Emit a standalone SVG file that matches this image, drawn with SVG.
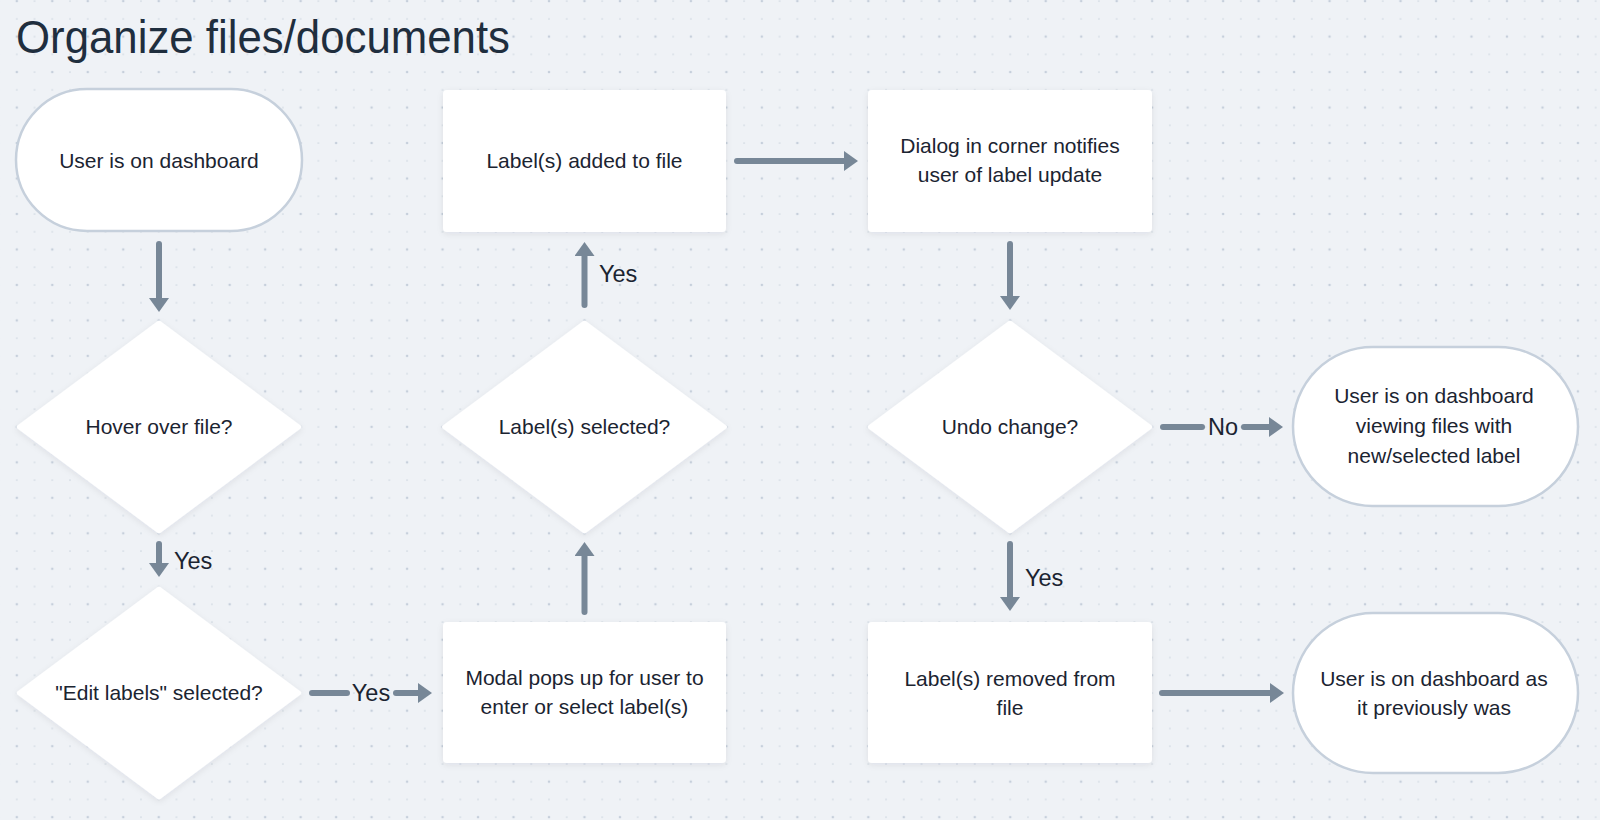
<svg xmlns="http://www.w3.org/2000/svg" width="1600" height="820" viewBox="0 0 1600 820">
  <defs>
    <pattern id="dots" patternUnits="userSpaceOnUse" x="7.93" y="-7.77" width="35.48" height="35.48">
      <circle cx="8.87" cy="8.87" r="1.3" fill="#c6cfdb"/>
      <circle cx="26.61" cy="8.87" r="0.85" fill="#cfd7e1"/>
      <circle cx="8.87" cy="26.61" r="0.85" fill="#cfd7e1"/>
      <circle cx="26.61" cy="26.61" r="0.85" fill="#cfd7e1"/>
    </pattern>
    <filter id="shadow" x="-10%" y="-10%" width="120%" height="130%">
      <feDropShadow dx="0" dy="2" stdDeviation="3" flood-color="#1b2a3a" flood-opacity="0.08"/>
    </filter>
    <marker id="arrow" markerUnits="userSpaceOnUse" markerWidth="14" markerHeight="20" refX="4" refY="10" orient="auto">
      <path d="M0,0 L14,10 L0,20 Z" fill="#778797"/>
    </marker>
  </defs>
  <style>
    .bg { fill: #eff2f6; }
    .term { fill: #ffffff; stroke: #c6d0dc; stroke-width: 2.5; }
    .box { fill: #ffffff; filter: url(#shadow); }
    .dia { fill: #ffffff; stroke: #ffffff; stroke-width: 3; stroke-linejoin: round; filter: url(#shadow); }
    .t { font-family: "Liberation Sans", Arial, sans-serif; font-size: 21px; fill: #1b2431; text-anchor: middle; }
    .title { font-family: "Liberation Sans", Arial, sans-serif; font-size: 47px; fill: #1f2e3e; }
    .lbl { font-family: "Liberation Sans", Arial, sans-serif; font-size: 23.5px; fill: #1b2431; }
    .c { stroke: #778797; stroke-width: 6; stroke-linecap: round; fill: none; }
  </style>
  <rect class="bg" x="0" y="0" width="1600" height="820"/>
  <rect x="0" y="0" width="1600" height="820" fill="url(#dots)"/>

  <text class="title" x="16" y="53" textLength="494" lengthAdjust="spacingAndGlyphs">Organize files/documents</text>

  <g id="n1"><rect class="term" x="16" y="89" width="286" height="142" rx="71"/><text class="t" x="159" y="168">User is on dashboard</text></g>
  <g id="n2"><polygon class="dia" points="159,322 300,427 159,532 18,427"/><text class="t" x="159" y="434">Hover over file?</text></g>
  <g id="n3"><polygon class="dia" points="159,588 300,693 159,798 18,693"/><text class="t" x="159" y="700">"Edit labels" selected?</text></g>
  <g id="n4"><rect class="box" x="443" y="622" width="283" height="141" rx="4"/><text class="t" x="584.5" y="685">Modal pops up for user to</text><text class="t" x="584.5" y="714">enter or select label(s)</text></g>
  <g id="n5"><polygon class="dia" points="584.5,322 725.5,427 584.5,532 443.5,427"/><text class="t" x="584.5" y="434">Label(s) selected?</text></g>
  <g id="n6"><rect class="box" x="443" y="90" width="283" height="142" rx="4"/><text class="t" x="584.5" y="168">Label(s) added to file</text></g>
  <g id="n7"><rect class="box" x="868" y="90" width="284" height="142" rx="4"/><text class="t" x="1010" y="153">Dialog in corner notifies</text><text class="t" x="1010" y="182">user of label update</text></g>
  <g id="n8"><polygon class="dia" points="1010,322 1151,427 1010,532 869,427"/><text class="t" x="1010" y="434">Undo change?</text></g>
  <g id="n9"><rect class="term" x="1293" y="347" width="285" height="159" rx="79.5"/><text class="t" x="1434" y="403">User is on dashboard</text><text class="t" x="1434" y="433">viewing files with</text><text class="t" x="1434" y="463">new/selected label</text></g>
  <g id="n10"><rect class="box" x="868" y="622" width="284" height="141" rx="4"/><text class="t" x="1010" y="686">Label(s) removed from</text><text class="t" x="1010" y="715">file</text></g>
  <g id="n11"><rect class="term" x="1293" y="613" width="285" height="160" rx="80"/><text class="t" x="1434" y="686">User is on dashboard as</text><text class="t" x="1434" y="715">it previously was</text></g>

  <g id="connectors">
    <line class="c" x1="159" y1="244" x2="159" y2="302" marker-end="url(#arrow)"/>
    <line class="c" x1="159" y1="544" x2="159" y2="567" marker-end="url(#arrow)"/>
    <text class="lbl" x="174" y="569">Yes</text>
    <line class="c" x1="312" y1="693" x2="347" y2="693"/>
    <text class="lbl" x="371" y="701" text-anchor="middle">Yes</text>
    <line class="c" x1="396" y1="693" x2="422" y2="693" marker-end="url(#arrow)"/>
    <line class="c" x1="584.5" y1="612" x2="584.5" y2="552" marker-end="url(#arrow)"/>
    <line class="c" x1="584.5" y1="305" x2="584.5" y2="252" marker-end="url(#arrow)"/>
    <text class="lbl" x="599" y="282">Yes</text>
    <line class="c" x1="737" y1="161" x2="848" y2="161" marker-end="url(#arrow)"/>
    <line class="c" x1="1010" y1="244" x2="1010" y2="300" marker-end="url(#arrow)"/>
    <line class="c" x1="1163" y1="427" x2="1202" y2="427"/>
    <text class="lbl" x="1223" y="435" text-anchor="middle">No</text>
    <line class="c" x1="1244" y1="427" x2="1273" y2="427" marker-end="url(#arrow)"/>
    <line class="c" x1="1010" y1="544" x2="1010" y2="601" marker-end="url(#arrow)"/>
    <text class="lbl" x="1025" y="586">Yes</text>
    <line class="c" x1="1162" y1="693" x2="1274" y2="693" marker-end="url(#arrow)"/>
  </g>
</svg>
